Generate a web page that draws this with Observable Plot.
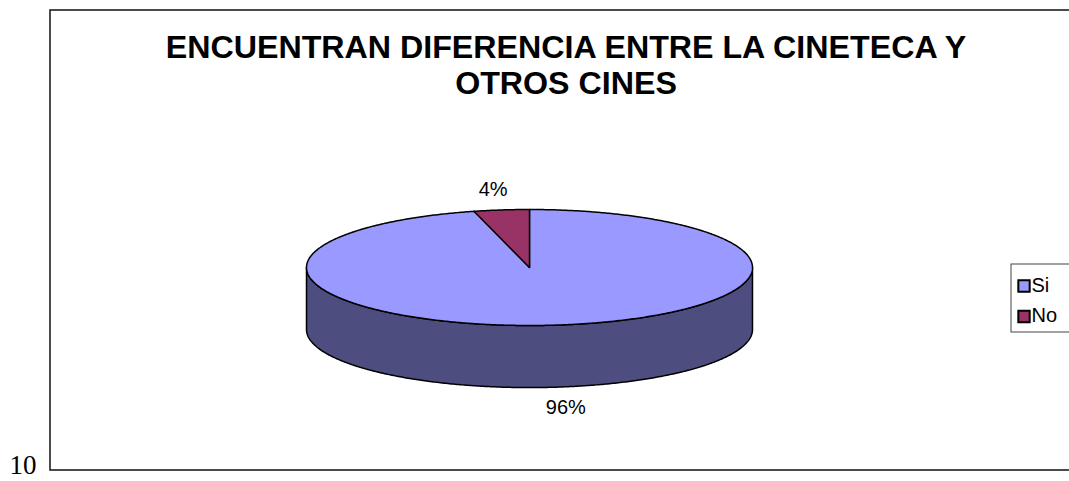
<!DOCTYPE html>
<html>
<head>
<meta charset="utf-8">
<script src="https://cdn.jsdelivr.net/npm/d3@7"></script>
<script src="https://cdn.jsdelivr.net/npm/@observablehq/plot@0.6"></script>
<style>
  html, body { margin: 0; padding: 0; background: #fff; }
  #chart svg { display: block; }
</style>
</head>
<body>
<div id="chart"></div>
<script>
// ---- data ----
const categories = ["Si", "No"];
const values = [96, 4];
const percentLabels = ["96%", "4%"];
const titleLines = ["ENCUENTRAN DIFERENCIA ENTRE LA CINETECA Y", "OTROS CINES"];
const cornerLabel = ["10"];

// ---- styles ----
const topColor = {Si: "#9999FF", No: "#993366"};
const sideColor = {Si: "#4D4D80", No: "#4D1A33"};
const depth = 1.07;       // pie thickness in y units (radius units)
const step = Math.PI / 360;

// ---- geometry (from the pie layout) ----
const arcs = d3.pie().sort(null).startAngle(0).endAngle(2 * Math.PI)(values)
  .map((a, i) => ({...a, cat: categories[i], label: percentLabels[i]}));

function arcPts(a0, a1, dy = 0) {
  const pts = [];
  const n = Math.max(2, Math.ceil(Math.abs(a1 - a0) / step));
  for (let k = 0; k <= n; ++k) {
    const a = a0 + (a1 - a0) * k / n;
    pts.push({x: Math.sin(a), y: Math.cos(a) - dy});
  }
  return pts;
}

const topPolys = arcs.map(a => ({cat: a.cat,
  pts: [{x: 0, y: 0}, ...arcPts(a.startAngle, a.endAngle), {x: 0, y: 0}]}));

const sidePolys = [];
for (const a of arcs) {
  const s = Math.max(a.startAngle, Math.PI / 2), e = Math.min(a.endAngle, 3 * Math.PI / 2);
  if (e > s) {
    const top = arcPts(s, e);
    const bot = arcPts(e, s, depth);
    sidePolys.push({cat: a.cat, pts: [...top, ...bot, top[0]]});
  }
}

const labelPts = arcs.map(a => {
  const m = (a.startAngle + a.endAngle) / 2;
  const c = Math.cos(m);
  return {label: a.label, x: 1.3 * Math.sin(m), y: 1.36 * c - (c < 0 ? depth : 0)};
});

const font = "'Liberation Sans', Arial, sans-serif";

const marks = [
  ...sidePolys.map(p => Plot.line(p.pts, {x: "x", y: "y", fill: sideColor[p.cat], stroke: "#000", strokeWidth: 1.5, curve: "linear"})),
  ...topPolys.map(p => Plot.line(p.pts, {x: "x", y: "y", fill: topColor[p.cat], stroke: "#000", strokeWidth: 1.5, curve: "linear"})),
  Plot.text(labelPts, {x: "x", y: "y", text: "label", fontSize: 20, fill: "#000", fontFamily: font}),
  // chart frame
  Plot.frame({stroke: "#111", strokeWidth: 1.5, insetLeft: 49.5, insetTop: 9.5, insetBottom: 11.5, insetRight: -10}),
  // title
  ...titleLines.map((t, i) => Plot.text([t], {frameAnchor: "top", dx: 31, dy: 57 + 36 * i, lineAnchor: "bottom",
    fontSize: 32.2, fontWeight: "bold", fill: "#000", fontFamily: font})),
  // legend box
  Plot.frame({stroke: "#444", strokeWidth: 1, insetLeft: 1010.5, insetTop: 263.5, insetBottom: 481 - 331.5, insetRight: -10}),
  ...categories.map((c, i) => Plot.dot([c], {frameAnchor: "top-left", dx: 1023.5, dy: 285.5 + 30.5 * i,
    symbol: "square", r: 6.4, fill: topColor[c], stroke: "#000", strokeWidth: 2})),
  ...categories.map((c, i) => Plot.text([c], {frameAnchor: "top-left", dx: 1031, dy: 285 + 30.5 * i,
    textAnchor: "start", lineAnchor: "middle", fontSize: 20, fill: "#000", fontFamily: font})),
  // stray label at bottom-left
  Plot.text(cornerLabel, {frameAnchor: "top-left", dx: 9, dy: 473, textAnchor: "start", lineAnchor: "bottom",
    fontSize: 27, fill: "#000", fontFamily: "'Liberation Serif', 'Times New Roman', serif"})
];

const chart = Plot.plot({
  width: 1069,
  height: 481,
  margin: 0,
  x: {domain: [-1, 1], range: [306, 752], axis: null},
  y: {domain: [-1, 1], range: [325, 209], axis: null},
  style: {background: "#fff", fontFamily: font, overflow: "hidden"},
  marks
});
document.getElementById("chart").append(chart);
</script>
</body>
</html>
